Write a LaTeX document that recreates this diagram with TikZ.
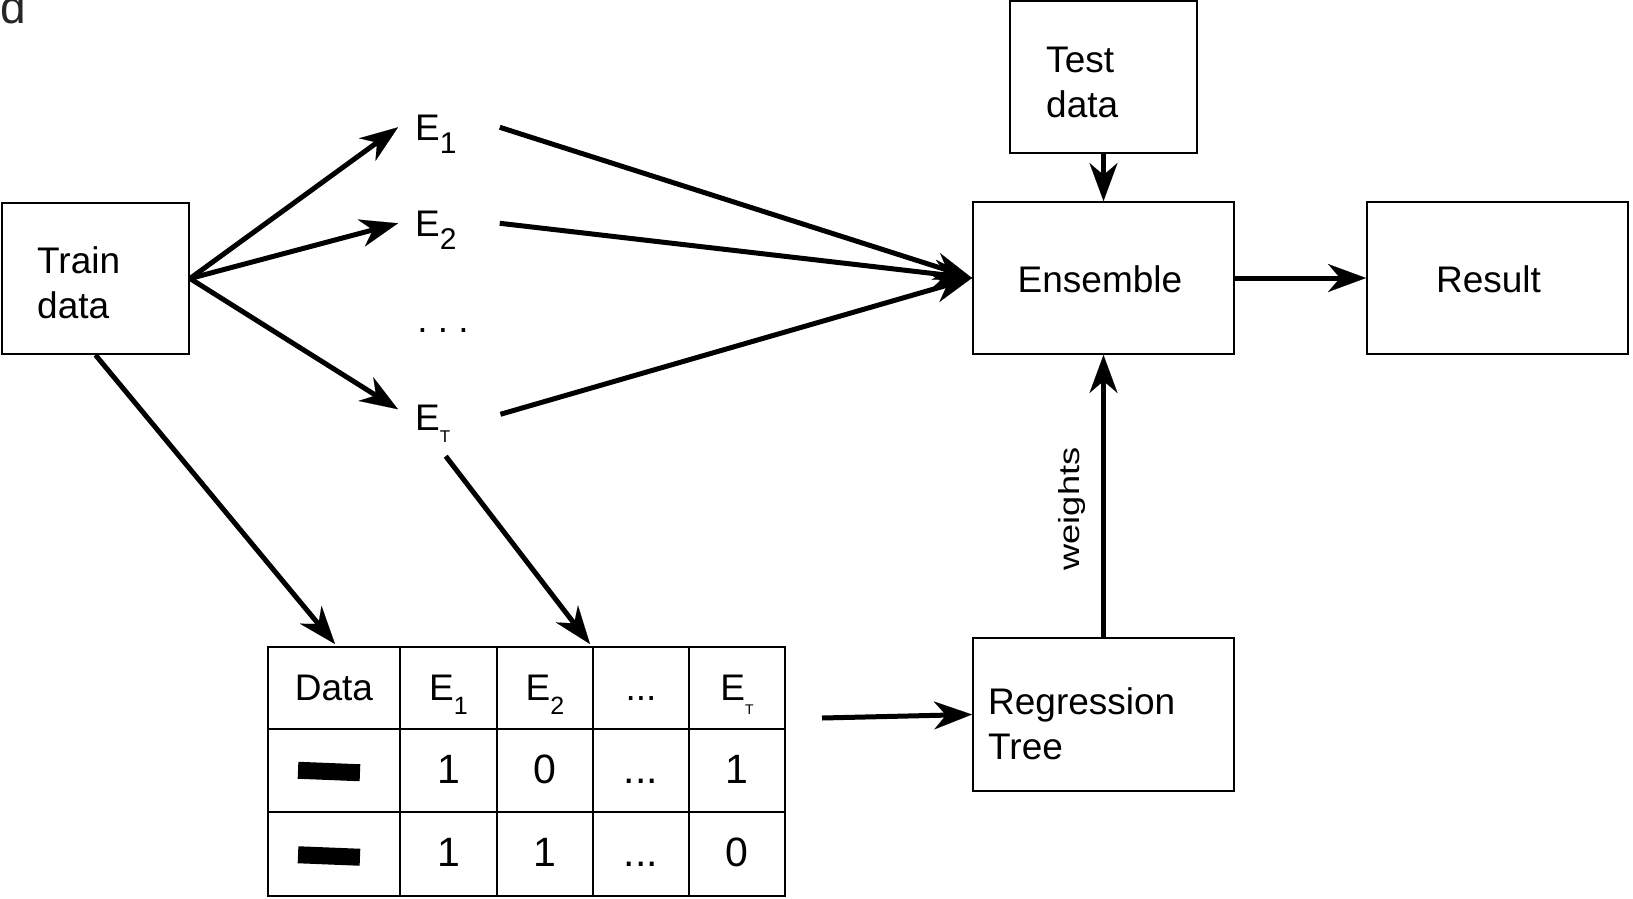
\documentclass[tikz,border=0pt]{standalone}
\usepackage{fontspec}
\setmainfont{Liberation Sans}
\usetikzlibrary{arrows.meta,calc}
% subscripts for the ensemble labels (smashed so they do not move the baseline)
\newcommand\lblsub[1]{\raisebox{-13pt}[0pt][0pt]{\fontsize{30}{30}\selectfont #1}}
\newcommand\lblsubT{\raisebox{-12pt}[0pt][0pt]{\fontsize{17}{17}\selectfont T}}
\newcommand\tabsub[1]{\raisebox{-14pt}[0pt][0pt]{\fontsize{25}{25}\selectfont #1}}
\newcommand\tabsubT{\raisebox{-14pt}[0pt][0pt]{\fontsize{14}{14}\selectfont T}}
\begin{document}
\begin{tikzpicture}[x=1pt,y=-1pt,
  blk/.style={draw, line width=2pt, inner sep=0pt},
  lbl/.style={inner sep=0pt, font=\fontsize{37}{45}\selectfont, align=left},
  conn/.style={line width=5pt, -{Stealth[length=38pt,width=28pt,inset=12pt,line width=0.1pt]}},
  cell/.style={draw, line width=2pt, inner sep=0pt, font=\fontsize{37}{45}\selectfont,
               text height=25.5pt, text depth=0pt},
  num/.style={font=\fontsize{41}{45}\selectfont},
  barmark/.style={fill=black, inner sep=0pt, minimum width=62pt, minimum height=17pt, rotate=-2.3},
]
\useasboundingbox (0,0) rectangle (1633,898);

% panel letter, partly outside the frame
\node[anchor=base east, inner sep=0pt, font=\fontsize{46}{46}\selectfont, text=black!85] (paneltag) at (26,23.5) {d};

% boxes (two-line labels are anchored at the baseline of their last line)
\node[blk, minimum width=187pt, minimum height=151pt] (train) at (95.5,278.5) {};
\node[lbl, anchor=base west] (trainlbl) at (37,318) {Train\\data};

\node[blk, minimum width=187pt, minimum height=152pt] (test) at (1103.5,77) {};
\node[lbl, anchor=base west] (testlbl) at (1046,117) {Test\\data};

\node[blk, minimum width=261pt, minimum height=152pt] (ens) at (1103.5,278) {};
\node[lbl, anchor=base] (enslbl) at (1100,292) {Ensemble};

\node[blk, minimum width=261pt, minimum height=152pt] (result) at (1497.5,278) {};
\node[lbl, anchor=base] (resultlbl) at (1488.5,292) {Result};

\node[blk, minimum width=261pt, minimum height=153pt] (reg) at (1103.5,714.5) {};
\node[lbl, anchor=base west] (reglbl) at (988,759) {Regression\\Tree};

% base learners
\node[lbl, anchor=base west] (e1) at (415,140) {E\lblsub{1}};
\node[lbl, anchor=base west] (e2) at (415,236) {E\lblsub{2}};
\node[lbl, anchor=base] (edots) at (443,332) {.\ .\ .};
\node[lbl, anchor=base west] (eT) at (415,430) {E\lblsubT};

% prediction table
\node[cell, minimum width=132pt, minimum height=82pt] (c11) at (334,688) {Data};
\node[cell, minimum width=97pt, minimum height=82pt] (c12) at (448.5,688) {E\tabsub{1}};
\node[cell, minimum width=96pt, minimum height=82pt] (c13) at (545,688) {E\tabsub{2}};
\node[cell, minimum width=96pt, minimum height=82pt] (c14) at (641,688) {...};
\node[cell, minimum width=96pt, minimum height=82pt] (c15) at (737,688) {E\tabsubT};

\node[cell, minimum width=132pt, minimum height=83pt] (c21) at (334,770.5) {};
\node[cell, num, minimum width=97pt, minimum height=83pt] (c22) at (448.5,770.5) {1};
\node[cell, num, minimum width=96pt, minimum height=83pt] (c23) at (545,770.5) {0};
\node[cell, num, minimum width=96pt, minimum height=83pt] (c24) at (641,770.5) {...};
\node[cell, num, minimum width=96pt, minimum height=83pt] (c25) at (737,770.5) {1};

\node[cell, minimum width=132pt, minimum height=84pt] (c31) at (334,854) {};
\node[cell, num, minimum width=97pt, minimum height=84pt] (c32) at (448.5,854) {1};
\node[cell, num, minimum width=96pt, minimum height=84pt] (c33) at (545,854) {1};
\node[cell, num, minimum width=96pt, minimum height=84pt] (c34) at (641,854) {...};
\node[cell, num, minimum width=96pt, minimum height=84pt] (c35) at (737,854) {0};

\node[barmark] (bar2) at (329,771.5) {};
\node[barmark] (bar3) at (329,856) {};

\coordinate (tabout) at (822,718);

% connectors
\draw[conn] (train.east) -- ($(e1.west)+(-17,0)$);
\draw[conn] (train.east) -- ($(e2.west)+(-17,0)$);
\draw[conn] (train.east) -- ($(eT.west)+(-17,-8)$);

\draw[conn] ($(e1.east)+(43,0)$) -- (ens.west);
\draw[conn] ($(e2.east)+(43,0)$) -- (ens.west);
\draw[conn] ($(eT.east)+(50,-3)$) -- (ens.west);

\draw[conn] (train.south) -- ($(c11.north)+(1,-2)$);
\draw[conn] ($(eT.south)+(13,26)$) -- ($(c14.north west)+(-2,-2)$);

\draw[conn] (tabout) -- (reg.west);
\draw[conn] (reg.north) -- (ens.south);
\node[rotate=90, inner sep=0pt, font=\fontsize{29}{29}\selectfont] (wlbl) at (1072,509) {\scalebox{1.25}[1]{weights}};
\draw[conn] (test.south) -- (ens.north);
\draw[conn] (ens.east) -- (result.west);
\end{tikzpicture}
\end{document}
